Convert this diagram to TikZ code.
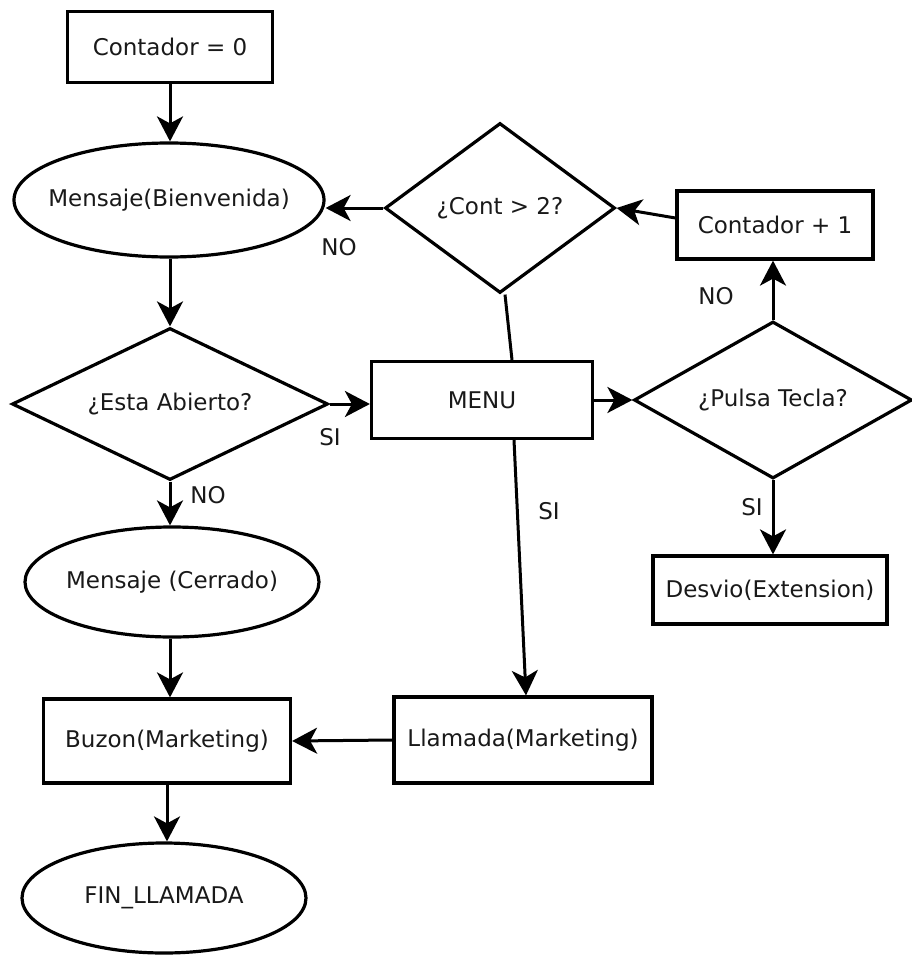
\documentclass[tikz,border=0pt]{standalone}
\usepackage{fontspec}
\setmainfont{DejaVu Sans}
\usetikzlibrary{shapes.geometric,arrows.meta}
\tikzset{
  base/.style={draw=black, line width=3.2pt, inner sep=0pt, font=\fontsize{23}{27}\selectfont, text=black!90},
  boxnode/.style={base, rectangle},
  ovalnode/.style={base, ellipse},
  decnode/.style={base, diamond, aspect=1.8},
  conn/.style={line width=3pt, -{Stealth[length=25pt,width=26pt,inset=7pt]}},
  plain/.style={line width=3pt},
  lbl/.style={font=\fontsize{23}{27}\selectfont, text=black!90, inner sep=0pt}
}
\begin{document}
\begin{tikzpicture}[x=1pt,y=-1pt]
\useasboundingbox (0,0) rectangle (912,958);
% nodes
\node[boxnode, minimum width=205pt, minimum height=71pt] (c0) at (170,47) {Contador = 0};
\node[ovalnode, minimum width=310pt, minimum height=114pt] (wel) at (169,200) {\makebox[0pt]{Mensaje(Bienvenida)}};
\node[decnode, minimum width=230pt, minimum height=170pt] (cont) at (500,208) {\makebox[0pt]{¿Cont > 2?}};
\node[boxnode, minimum width=196pt, minimum height=68pt] (cp1) at (775,225) {Contador + 1};
\node[decnode, minimum width=316pt, minimum height=152pt] (abierto) at (170,404) {\makebox[0pt]{¿Esta Abierto?}};
\node[boxnode, minimum width=221pt, minimum height=77pt] (menu) at (482,400) {MENU};
\node[decnode, minimum width=278pt, minimum height=157pt] (pulsa) at (773,400) {\makebox[0pt]{¿Pulsa Tecla?}};
\node[ovalnode, minimum width=294pt, minimum height=110pt] (cerrado) at (172,582) {\makebox[0pt]{Mensaje (Cerrado)}};
\node[boxnode, minimum width=234pt, minimum height=68pt] (desvio) at (770,590) {Desvio(Extension)};
\node[boxnode, minimum width=247pt, minimum height=84pt] (buzon) at (167,741) {Buzon(Marketing)};
\node[boxnode, minimum width=258pt, minimum height=86pt] (llamada) at (523,740) {Llamada(Marketing)};
\node[ovalnode, minimum width=284pt, minimum height=110pt] (fin) at (164,898) {\makebox[0pt]{FIN\_LLAMADA}};
% labels
\node[lbl] (l1) at (339,247) {NO};
\node[lbl] (l2) at (330,437) {SI};
\node[lbl] (l3) at (208,495) {NO};
\node[lbl] (l4) at (549,511) {SI};
\node[lbl] (l5) at (716,296) {NO};
\node[lbl] (l6) at (752,507) {SI};
% connectors
\draw[conn] (c0.south) -- (c0.south |- wel.north);
\draw[conn] (abierto.north |- wel.south) -- (abierto.north);
\draw[conn] (cont.west) -- (cont.west -| wel.east);
\draw[conn] ([yshift=7pt]cp1.west) -- (cont.east);
\draw[plain] ([xshift=5pt]cont.south) -- ([xshift=30pt]menu.north);
\draw[conn] (abierto.east) -- (abierto.east -| menu.west);
\draw[conn] (menu.east) -- (pulsa.west);
\draw[conn] (pulsa.north) -- (pulsa.north |- cp1.south);
\draw[conn] (pulsa.south) -- (pulsa.south |- desvio.north);
\draw[conn] (abierto.south) -- (abierto.south |- cerrado.north);
\draw[conn] (abierto.south |- cerrado.south) -- (abierto.south |- buzon.north);
\draw[conn] ([xshift=32pt]menu.south) -- ([xshift=3pt]llamada.north);
\draw[conn] (llamada.west) -- (buzon.east);
\draw[conn] (buzon.south) -- (buzon.south |- fin.north);
\end{tikzpicture}
\end{document}
